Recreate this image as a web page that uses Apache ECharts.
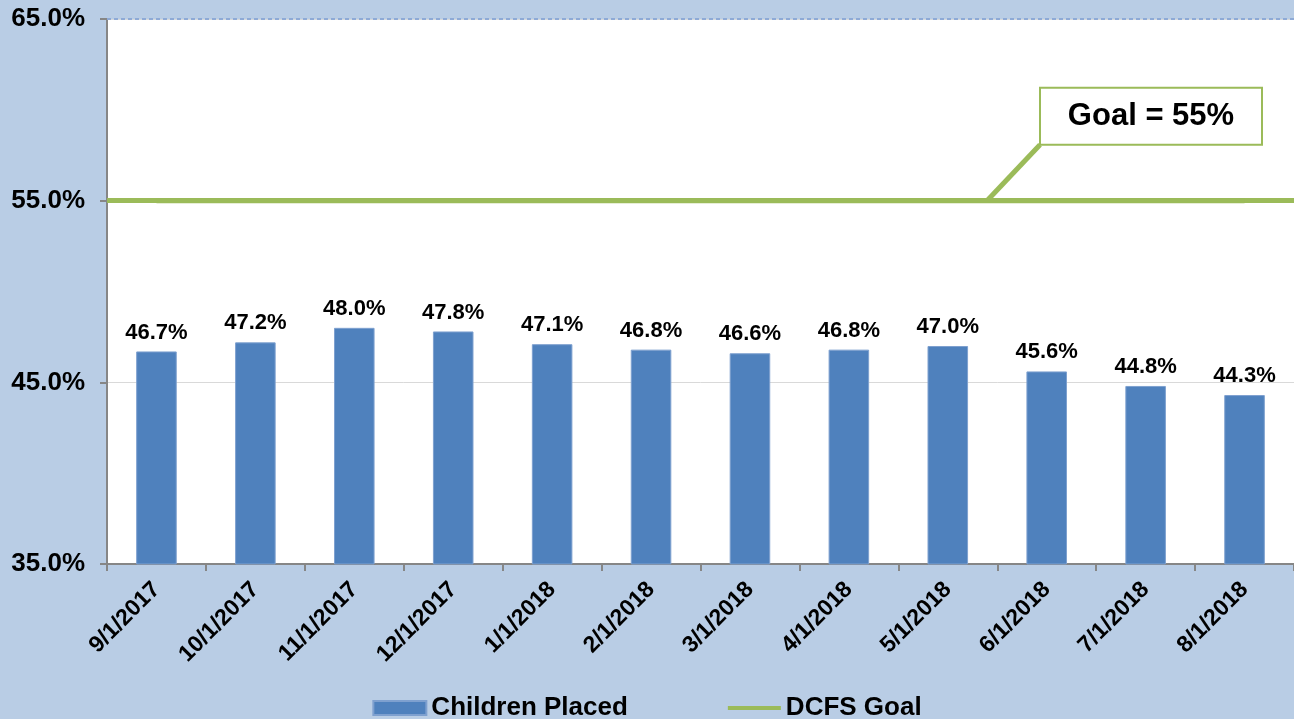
<!DOCTYPE html>
<html>
<head>
<meta charset="utf-8">
<script src="https://cdn.jsdelivr.net/npm/echarts@6/dist/echarts.min.js"></script>
<style>
html,body{margin:0;padding:0;background:#b9cde5;}
#c{width:1294px;height:719px;}
</style>
</head>
<body>
<div id="c"></div>
<script>
const categories = ['9/1/2017','10/1/2017','11/1/2017','12/1/2017','1/1/2018','2/1/2018','3/1/2018','4/1/2018','5/1/2018','6/1/2018','7/1/2018','8/1/2018'];
const childrenPlaced = [46.7,47.2,48.0,47.8,47.1,46.8,46.6,46.8,47.0,45.6,44.8,44.3];
const goalValue = 55;
const dcfsGoal = categories.map(() => goalValue);
const yMin = 35, yMax = 65, yInterval = 10;
const goalText = 'Goal = 55%';

const FONT = '"Liberation Sans", Arial, sans-serif';
const GREEN = '#9bbb59';
const chart = echarts.init(document.getElementById('c'));
chart.setOption({
  backgroundColor: '#b9cde5',
  animation: false,
  textStyle: { fontFamily: FONT },
  grid: { left: 107, right: 0, top: 19, bottom: 155, show: true, backgroundColor: '#ffffff', borderWidth: 0 },
  legend: {
    top: 690, left: 'center',
    itemGap: 100,
    itemWidth: 53, itemHeight: 14,
    textStyle: { fontFamily: FONT, fontSize: 26, fontWeight: 'bold', color: '#000' },
    data: [
      { name: 'Children Placed', icon: 'rect' },
      { name: 'DCFS Goal', icon: 'path://M0,0 L53,0 M0,5 L53,5 L53,9 L0,9 Z M0,14 L53,14', itemStyle: { color: GREEN } }
    ]
  },
  xAxis: {
    type: 'category',
    data: categories,
    axisLine: { lineStyle: { color: '#868686', width: 2 } },
    axisTick: { show: true, length: 7, lineStyle: { color: '#868686', width: 2 } },
    axisLabel: { rotate: 45, margin: 22, fontFamily: FONT, fontSize: 23, fontWeight: 'bold', color: '#000' }
  },
  yAxis: {
    type: 'value', min: yMin, max: yMax, interval: yInterval,
    axisLine: { show: true, lineStyle: { color: '#868686', width: 2 } },
    axisTick: { show: true, length: 7, lineStyle: { color: '#868686', width: 2 } },
    splitLine: { show: true, lineStyle: { color: '#d9d9d9', width: 1 } },
    axisLabel: { margin: 22, fontFamily: FONT, fontSize: 26, fontWeight: 'bold', color: '#000',
      formatter: v => v.toFixed(1) + '%' }
  },
  series: [
    {
      name: 'Children Placed', type: 'bar', data: childrenPlaced,
      barWidth: '41%',
      itemStyle: { color: '#4f81bd', borderColor: '#7ea0cf', borderWidth: 1 },
      label: { show: true, position: 'top', distance: 8, fontFamily: FONT, fontSize: 22, fontWeight: 'bold', color: '#000',
        formatter: p => p.value.toFixed(1) + '%' },
      markLine: {
        silent: true, symbol: 'none', label: { show: false },
        lineStyle: { color: '#8eaad6', type: [4, 3], width: 2 },
        data: [{ yAxis: yMax }]
      }
    },
    {
      name: 'DCFS Goal', type: 'line', data: dcfsGoal,
      symbol: 'none', color: GREEN,
      lineStyle: { color: GREEN, width: 5 },
      markLine: {
        silent: true, symbol: 'none', label: { show: false },
        lineStyle: { color: GREEN, type: 'solid', width: 5 },
        data: [{ yAxis: goalValue }]
      },
      z: 5
    }
  ]
});

// callout annotation anchored on the goal line
const gy = chart.convertToPixel({ yAxisIndex: 0 }, goalValue);
chart.setOption({
  graphic: [
    { type: 'line', z: 100, shape: { x1: 987, y1: gy, x2: 1040, y2: gy - 56 }, style: { stroke: GREEN, lineWidth: 5 } },
    { type: 'rect', z: 101, shape: { x: 1040, y: gy - 113, width: 222, height: 57 }, style: { fill: '#fff', stroke: GREEN, lineWidth: 2 } },
    { type: 'text', z: 102, x: 1151, y: gy - 84.5, style: { text: goalText, fill: '#000', font: 'bold 31px ' + FONT, align: 'center', verticalAlign: 'middle' } }
  ]
});
</script>
</body>
</html>
